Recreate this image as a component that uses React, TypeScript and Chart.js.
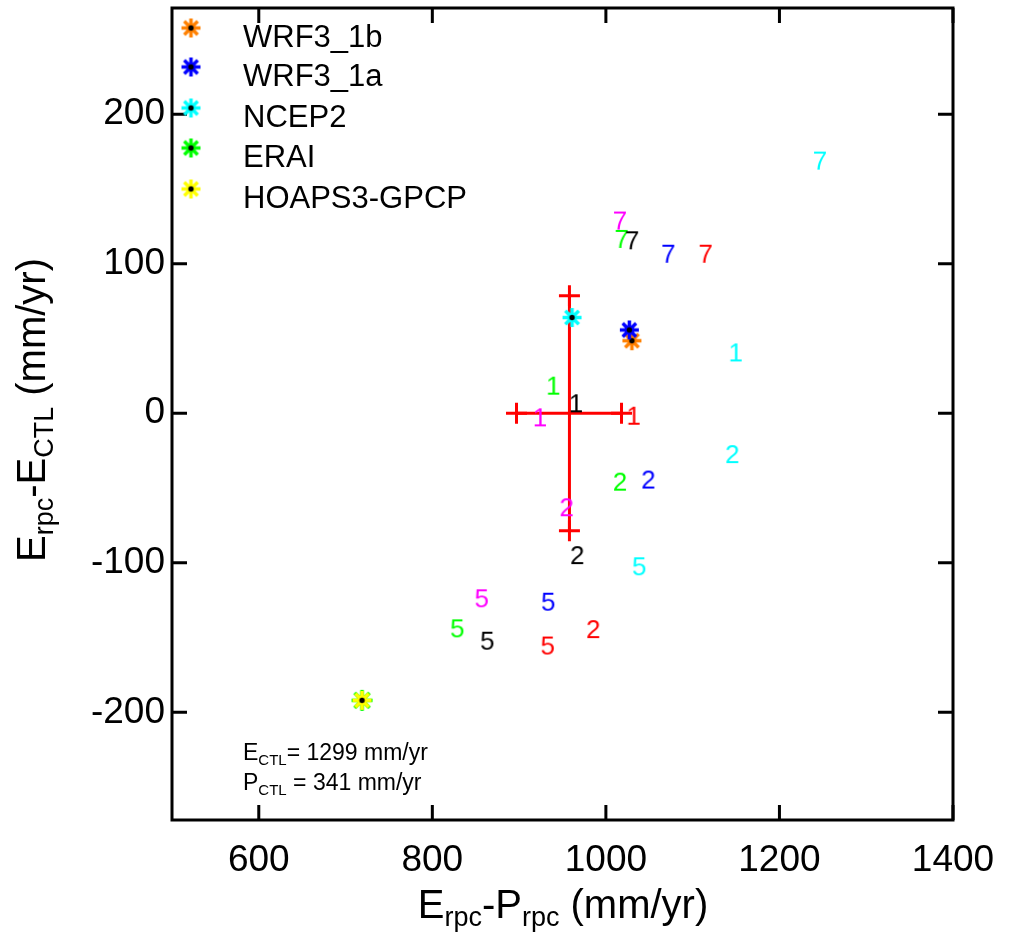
import React, { useEffect, useRef } from "react";
import { Chart, registerables } from "chart.js";

Chart.register(...registerables);

const FONT = '"Liberation Sans", Arial, Helvetica, sans-serif';

// Axis ranges and ticks
const xMin = 500;
const xMax = 1400;
const yMin = -272;
const yMax = 271;
const xTicks = [600, 800, 1000, 1200, 1400];
const yTicks = [-200, -100, 0, 100, 200];

// Observation / reference markers (legend order)
const legendNames = ["WRF3_1b", "WRF3_1a", "NCEP2", "ERAI", "HOAPS3-GPCP"];
const legendColors = ["#FF8000", "#0000FF", "#00FFFF", "#00FF00", "#FFFF00"];
const markerX = [1030, 1027, 961, 719, 719];
const markerY = [48.5, 55.7, 64, -192, -192];

// Numbered points per colour series
const redLabels = ["1", "2", "5", "7"];
const redX = [1032, 985.5, 933, 1115];
const redY = [-2.3, -145, -156, 106];

const blueLabels = ["2", "5", "7"];
const blueX = [1049, 933.6, 1072];
const blueY = [-45, -126.7, 106];

const cyanLabels = ["1", "2", "5", "7"];
const cyanX = [1149.6, 1145.7, 1038.5, 1246.7];
const cyanY = [40, -28, -103, 168.3];

const greenLabels = ["1", "2", "5", "7"];
const greenX = [939.4, 1016.3, 828.8, 1018.2];
const greenY = [17.8, -46.4, -144.5, 115.9];

const blackLabels = ["1", "2", "5", "7"];
const blackX = [965.5, 967, 863.4, 1030.3];
const blackY = [6, -95.5, -152.8, 115];

const magentaLabels = ["1", "2", "5", "7"];
const magentaX = [924, 954.8, 856.9, 1016.2];
const magentaY = [-3.4, -63.5, -124.4, 128.2];

// Error bars
const errHX = [897, 1018];
const errHY = [0, 0];
const errVX = [958, 958];
const errVY = [78.5, -78.5];

function makeStar(color: string, r: number): HTMLCanvasElement {
  const c = document.createElement("canvas");
  const s = Math.ceil(2 * r + 6);
  c.width = s;
  c.height = s;
  const g = c.getContext("2d")!;
  const m = s / 2;
  g.strokeStyle = color;
  g.lineWidth = 3.5;
  for (let k = 0; k < 4; k++) {
    const a = (k * Math.PI) / 4;
    g.beginPath();
    g.moveTo(m - r * Math.cos(a), m - r * Math.sin(a));
    g.lineTo(m + r * Math.cos(a), m + r * Math.sin(a));
    g.stroke();
  }
  g.fillStyle = color;
  g.beginPath();
  g.arc(m, m, 5, 0, Math.PI * 2);
  g.fill();
  g.fillStyle = "#000";
  g.beginPath();
  g.arc(m, m, 2.7, 0, Math.PI * 2);
  g.fill();
  return c;
}

function makeDigit(color: string, txt: string): HTMLCanvasElement {
  const c = document.createElement("canvas");
  c.width = 32;
  c.height = 32;
  const g = c.getContext("2d")!;
  g.fillStyle = color;
  g.font = `26px ${FONT}`;
  g.textAlign = "center";
  g.textBaseline = "middle";
  g.fillText(txt, 16, 17);
  return c;
}

type Part = { t: string; sub?: boolean };

function drawRich(
  ctx: CanvasRenderingContext2D,
  parts: Part[],
  x: number,
  y: number,
  size: number,
  subSize: number,
  subDrop: number,
  align: "left" | "center"
) {
  ctx.textBaseline = "alphabetic";
  ctx.textAlign = "left";
  let total = 0;
  for (const p of parts) {
    ctx.font = `${p.sub ? subSize : size}px ${FONT}`;
    total += ctx.measureText(p.t).width;
  }
  let cx = align === "center" ? x - total / 2 : x;
  for (const p of parts) {
    ctx.font = `${p.sub ? subSize : size}px ${FONT}`;
    ctx.fillText(p.t, cx, p.sub ? y + subDrop : y);
    cx += ctx.measureText(p.t).width;
  }
}

const framePlugin = {
  id: "framePlugin",
  afterDraw(chart: any) {
    const ctx: CanvasRenderingContext2D = chart.ctx;
    const { left, right, top, bottom } = chart.chartArea;
    const xs = chart.scales.x;
    const ys = chart.scales.y;
    ctx.save();
    ctx.strokeStyle = "#000";
    ctx.fillStyle = "#000";
    ctx.lineWidth = 3;
    ctx.strokeRect(left, top, right - left, bottom - top);
    const tl = 15;
    ctx.beginPath();
    for (const v of xTicks) {
      const px = xs.getPixelForValue(v);
      ctx.moveTo(px, bottom);
      ctx.lineTo(px, bottom - tl);
      ctx.moveTo(px, top);
      ctx.lineTo(px, top + tl);
    }
    for (const v of yTicks) {
      const py = ys.getPixelForValue(v);
      ctx.moveTo(left, py);
      ctx.lineTo(left + tl, py);
      ctx.moveTo(right, py);
      ctx.lineTo(right - tl, py);
    }
    ctx.stroke();

    // tick labels
    ctx.font = `37px ${FONT}`;
    ctx.textBaseline = "middle";
    ctx.textAlign = "center";
    for (const v of xTicks) {
      ctx.fillText(String(v), xs.getPixelForValue(v), 861);
    }
    ctx.textAlign = "right";
    for (const v of yTicks) {
      ctx.fillText(String(v), left - 7, ys.getPixelForValue(v));
    }

    // x title
    drawRich(
      ctx,
      [{ t: "E" }, { t: "rpc", sub: true }, { t: "-P" }, { t: "rpc", sub: true }, { t: " (mm/yr)" }],
      563,
      918,
      40,
      27,
      8,
      "center"
    );

    // y title
    ctx.save();
    ctx.translate(45, 410);
    ctx.rotate(-Math.PI / 2);
    drawRich(
      ctx,
      [{ t: "E" }, { t: "rpc", sub: true }, { t: "-E" }, { t: "CTL", sub: true }, { t: " (mm/yr)" }],
      0,
      0,
      40,
      27,
      8,
      "center"
    );
    ctx.restore();

    // annotation
    drawRich(ctx, [{ t: "E" }, { t: "CTL", sub: true }, { t: "= 1299 mm/yr" }], 243, 760, 23, 15, 5, "left");
    drawRich(ctx, [{ t: "P" }, { t: "CTL", sub: true }, { t: " = 341 mm/yr" }], 243, 790, 23, 15, 5, "left");

    // legend
    const legY = [28, 67, 108, 148, 189];
    for (let i = 0; i < legendNames.length; i++) {
      const img = makeStar(legendColors[i], 9.5);
      ctx.drawImage(img, 191 - img.width / 2, legY[i] - img.height / 2);
      ctx.font = `31px ${FONT}`;
      ctx.textAlign = "left";
      ctx.textBaseline = "alphabetic";
      ctx.fillStyle = "#000";
      ctx.fillText(legendNames[i], 243, legY[i] + 19);
    }
    ctx.restore();
  },
};

function pts(xs: number[], ys: number[]) {
  return xs.map((x, i) => ({ x, y: ys[i] }));
}

function digitSet(color: string, labels: string[], xs: number[], ys: number[]) {
  const imgs = labels.map((l) => makeDigit(color, l));
  return {
    type: "scatter" as const,
    label: color,
    data: pts(xs, ys),
    pointStyle: imgs,
    pointRadius: 5,
    showLine: false,
  };
}

export default function App() {
  const ref = useRef<HTMLCanvasElement | null>(null);
  useEffect(() => {
    if (!ref.current) return;
    // markers: drawn on top -> lower index. Order: yellow above green, blue above orange
    const markerOrder = [4, 3, 1, 0, 2];
    const markerSets = markerOrder.map((i) => ({
      type: "scatter" as const,
      label: legendNames[i],
      data: [{ x: markerX[i], y: markerY[i] }],
      pointStyle: makeStar(legendColors[i], i === 3 ? 10.5 : 9.5),
      pointRadius: 5,
      showLine: false,
    }));
    const chart = new Chart(ref.current, {
      type: "scatter",
      data: {
        datasets: [
          ...markerSets,
          digitSet("#FF00FF", magentaLabels, magentaX, magentaY),
          digitSet("#000000", blackLabels, blackX, blackY),
          digitSet("#00FF00", greenLabels, greenX, greenY),
          digitSet("#00FFFF", cyanLabels, cyanX, cyanY),
          digitSet("#0000FF", blueLabels, blueX, blueY),
          digitSet("#FF0000", redLabels, redX, redY),
          {
            type: "line" as const,
            label: "errH",
            data: pts(errHX, errHY),
            borderColor: "#FF0000",
            borderWidth: 3,
            pointStyle: "cross",
            pointRadius: 10.5,
            pointBorderWidth: 3,
            pointBorderColor: "#FF0000",
            showLine: true,
          },
          {
            type: "line" as const,
            label: "errV",
            data: pts(errVX, errVY),
            borderColor: "#FF0000",
            borderWidth: 3,
            pointStyle: "cross",
            pointRadius: 10.5,
            pointBorderWidth: 3,
            pointBorderColor: "#FF0000",
            showLine: true,
          },
        ] as any,
      },
      options: {
        animation: false,
        responsive: false,
        events: [],
        layout: { autoPadding: false, padding: { left: 172, right: 56, top: 8, bottom: 117 } },
        plugins: { legend: { display: false }, tooltip: { enabled: false } },
        scales: {
          x: { type: "linear", min: xMin, max: xMax, display: false },
          y: { type: "linear", min: yMin, max: yMax, display: false },
        },
      },
      plugins: [framePlugin],
    });
    return () => chart.destroy();
  }, []);
  return (
    <div style={{ position: "absolute", left: 0, top: 0, width: 1009, height: 937, background: "#fff" }}>
      <canvas ref={ref} width={1009} height={937} style={{ width: 1009, height: 937, display: "block" }} />
    </div>
  );
}
